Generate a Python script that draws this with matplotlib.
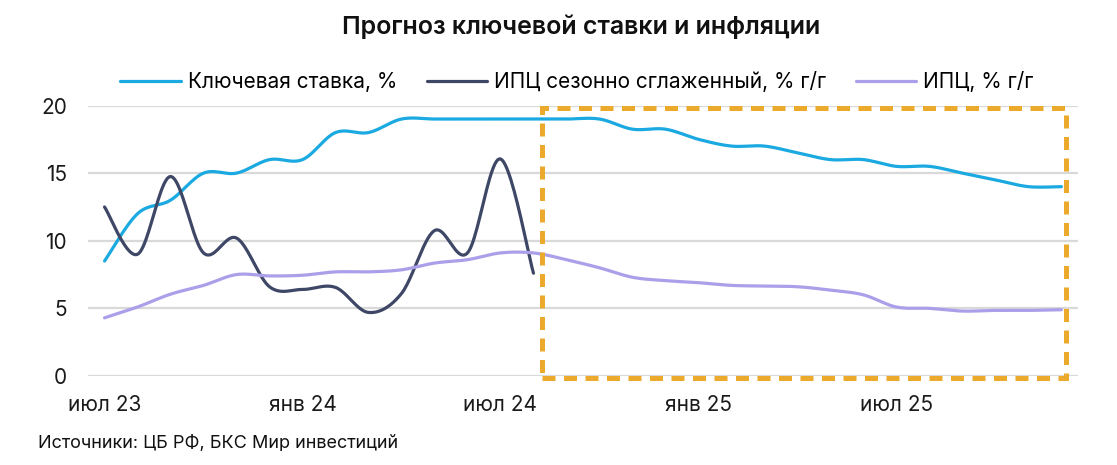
import numpy as np
import matplotlib.pyplot as plt
from matplotlib.patches import Rectangle

plt.rcParams['font.family'] = ['Inter', 'DejaVu Sans']

# months Jul 2023 .. Dec 2025
months = ['июл 23', 'авг 23', 'сен 23', 'окт 23', 'ноя 23', 'дек 23',
          'янв 24', 'фев 24', 'мар 24', 'апр 24', 'май 24', 'июн 24',
          'июл 24', 'авг 24', 'сен 24', 'окт 24', 'ноя 24', 'дек 24',
          'янв 25', 'фев 25', 'мар 25', 'апр 25', 'май 25', 'июн 25',
          'июл 25', 'авг 25', 'сен 25', 'окт 25', 'ноя 25', 'дек 25']
tick_labels = ['июл 23', 'янв 24', 'июл 24', 'янв 25', 'июл 25']

key_rate = [8.5, 12.0, 13.0, 15.0, 15.0, 16.0, 16.0, 18.0, 18.0, 19.0,
            19.0, 19.0, 19.0, 19.0, 19.0, 19.0, 18.25, 18.25, 17.5, 17.0,
            17.0, 16.5, 16.0, 16.0, 15.5, 15.5, 15.0, 14.5, 14.0, 14.0]
cpi_sa = [12.5, 9.0, 14.75, 9.1, 10.2, 6.6, 6.4, 6.55, 4.7, 6.1,
          10.75, 9.1, 16.05, 7.6]
cpi = [4.3, 5.1, 6.05, 6.7, 7.5, 7.4, 7.45, 7.7, 7.7, 7.85,
       8.35, 8.6, 9.1, 9.1, 8.6, 8.0, 7.3, 7.05, 6.9, 6.7,
       6.65, 6.6, 6.35, 6.0, 5.1, 5.0, 4.8, 4.85, 4.85, 4.9]

series = [
    (key_rate, 'Ключевая ставка, %', '#1BA9E1'),
    (cpi_sa, 'ИПЦ сезонно сглаженный, % г/г', '#3F4766'),
    (cpi, 'ИПЦ, % г/г', '#AB9FEA'),
]


# smoothed line like Excel (Catmull-Rom through the points)
def smooth(y, n=24):
    y = np.asarray(y, dtype=float)
    x = np.arange(len(y), dtype=float)
    px = np.concatenate([[x[0]], x, [x[-1]]])
    py = np.concatenate([[y[0]], y, [y[-1]]])
    xs, ys = [], []
    t = np.linspace(0, 1, n, endpoint=False)
    for i in range(1, len(px) - 2):
        p0, p1, p2, p3 = [np.array([px[j], py[j]]) for j in range(i - 1, i + 3)]
        c1 = p1 + (p2 - p0) / 6
        c2 = p2 - (p3 - p1) / 6
        b = ((1 - t) ** 3)[:, None] * p1 + (3 * (1 - t) ** 2 * t)[:, None] * c1 \
            + (3 * (1 - t) * t ** 2)[:, None] * c2 + (t ** 3)[:, None] * p2
        xs.extend(b[:, 0])
        ys.extend(b[:, 1])
    xs.append(x[-1])
    ys.append(y[-1])
    return xs, ys


fig = plt.figure(figsize=(11.17, 4.65), dpi=100)
ax = fig.add_axes([0.0788, 0.1914, 0.8862, 0.5817])

for vals, label, color in series:
    sx, sy = smooth(vals)
    ax.plot(sx, sy, color=color, lw=2.3, label=label, solid_capstyle='round')

ax.set_xlim(-0.5, len(months) - 0.5)
ax.set_ylim(0, 20)
ax.set_yticks([0, 5, 10, 15, 20])
ax.set_xticks([months.index(m) for m in tick_labels])
ax.set_xticklabels(tick_labels)
ax.grid(axis='y', color='#D9D9D9', lw=1.6)
ax.set_axisbelow(True)
ax.tick_params(axis='both', length=0, labelsize=15, colors='#1a1a1a')
ax.tick_params(axis='x', pad=14)
ax.tick_params(axis='y', pad=15)
for s in ax.spines.values():
    s.set_visible(False)

# forecast frame
box = Rectangle((13.26, -0.15), 15.88, 20.0, fill=False, edgecolor='#EBAA2B',
                lw=3.6, linestyle=(0, (2.6, 1.7)), clip_on=False, zorder=5)
ax.add_patch(box)

fig.text(0.52, 0.942, 'Прогноз ключевой ставки и инфляции', ha='center', va='center',
         fontsize=18, fontweight='semibold', color='#111111')
ax.legend(loc='center', bbox_to_anchor=(0.494, 1.087), ncol=3, frameon=False,
          fontsize=15, handlelength=2.9, columnspacing=1.4, handletextpad=0.35)
fig.text(0.034, 0.047, 'Источники: ЦБ РФ, БКС Мир инвестиций', ha='left', va='center',
         fontsize=13, color='#111111')

fig.savefig('out.png', dpi=100)
